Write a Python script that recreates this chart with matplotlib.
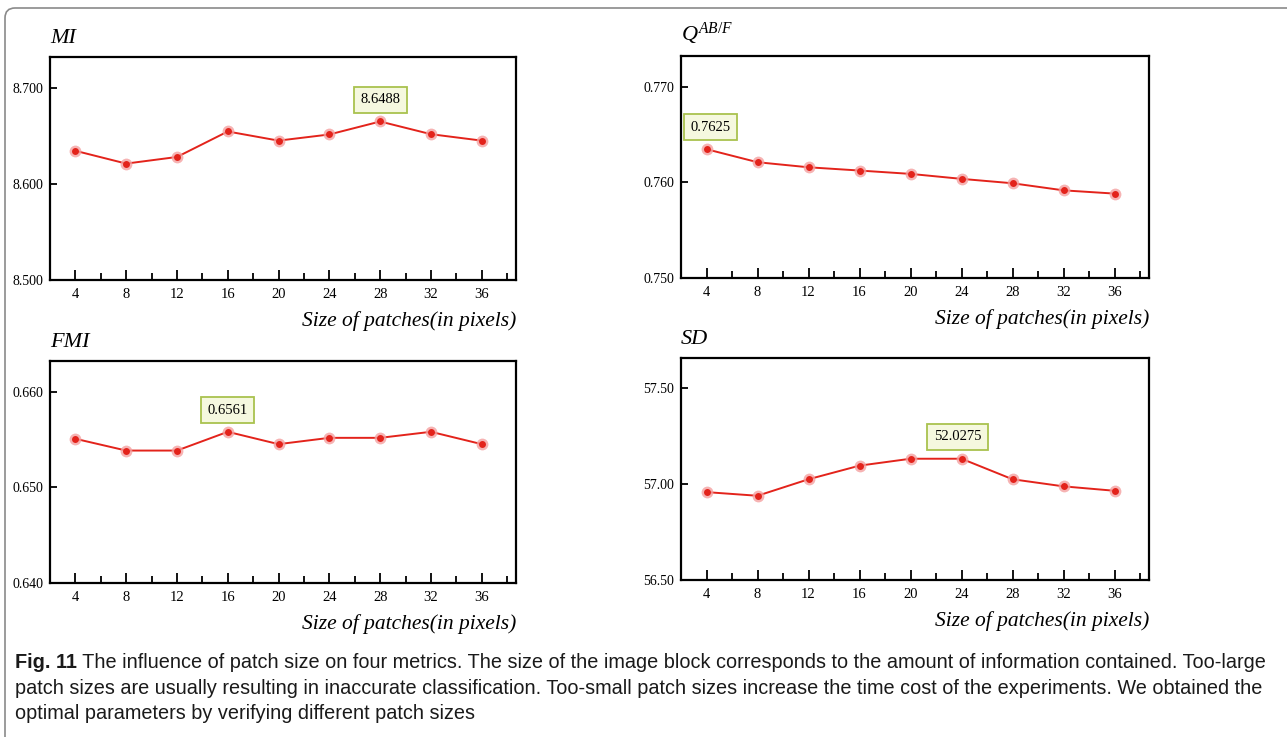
import matplotlib
matplotlib.use("Agg")
import matplotlib.pyplot as plt
from matplotlib.patches import FancyBboxPatch
from matplotlib.transforms import IdentityTransform

plt.rcParams['font.family'] = ['Liberation Serif', 'DejaVu Serif']
plt.rcParams['mathtext.fontset'] = 'custom'
plt.rcParams['mathtext.it'] = 'Liberation Serif:italic'
plt.rcParams['mathtext.rm'] = 'Liberation Serif'

# -------------------------------
# Dane
# -------------------------------
patch_sizes = [4, 8, 12, 16, 20, 24, 28, 32, 36]

mi_values = [8.6344, 8.6211, 8.6280, 8.6545, 8.6450, 8.6514, 8.6649, 8.6517, 8.6450]
q_values = [0.76346, 0.76210, 0.76157, 0.76123, 0.76088, 0.76036, 0.75990, 0.75916, 0.75882]
fmi_values = [0.65507, 0.65384, 0.65384, 0.65580, 0.65451, 0.65517, 0.65517, 0.65580, 0.65451]
sd_values = [56.958, 56.939, 57.025, 57.096, 57.132, 57.132, 57.025, 56.988, 56.965]

titles = ["MI", r"$Q^{AB/F}$", "FMI", "SD"]
y_ticks = [
    [8.500, 8.600, 8.700],
    [0.750, 0.760, 0.770],
    [0.640, 0.650, 0.660],
    [56.50, 57.00, 57.50],
]
y_tick_labels = [
    ["8.500", "8.600", "8.700"],
    ["0.750", "0.760", "0.770"],
    ["0.640", "0.650", "0.660"],
    ["56.50", "57.00", "57.50"],
]
y_limits = [(8.500, 8.732), (0.750, 0.7732), (0.640, 0.6632), (56.50, 57.657)]

# etykieta "najlepszej" wartosci: (indeks punktu, tekst)
best_labels = [(6, "8.6488"), (0, "0.7625"), (3, "0.6561"), (5, "52.0275")]
label_dx = [0, 3, 0, -3]

x_label = "Size of patches(in pixels)"
caption_bold = "Fig. 11"
caption_lines = [
    " The influence of patch size on four metrics. The size of the image block corresponds to the amount of information contained. Too-large",
    "patch sizes are usually resulting in inaccurate classification. Too-small patch sizes increase the time cost of the experiments. We obtained the",
    "optimal parameters by verifying different patch sizes",
]

series = [mi_values, q_values, fmi_values, sd_values]

# pozycje osi w pikselach: (lewo, gora, prawo, dol)
W, H = 1287, 737
boxes = [(50, 57, 516, 280), (681, 56, 1149, 278), (50, 361, 516, 583), (681, 358, 1149, 580)]

fig = plt.figure(figsize=(W / 100, H / 100), dpi=100)

# ramka wokol calej ryciny
frame = FancyBboxPatch((5, -60), 1400, H - 8 + 60,
                       boxstyle="round,pad=0,rounding_size=10",
                       transform=IdentityTransform(), fc="none", ec="#8a8a8a", lw=1.2)
fig.patches.append(frame)

for i, (l, t, r, b) in enumerate(boxes):
    ax = fig.add_axes([l / W, 1 - b / H, (r - l) / W, (b - t) / H])
    vals = series[i]
    ax.plot(patch_sizes, vals, color="#e3231b", lw=1.4, zorder=3)
    ax.plot(patch_sizes, vals, ls="none", marker="o", ms=8.5, mfc="#f4a0a0",
            mec="none", alpha=0.8, zorder=4)
    ax.plot(patch_sizes, vals, ls="none", marker="o", ms=5, mfc="#e3231b",
            mec="none", zorder=5)

    ax.set_xlim(2, 38.7)
    ax.set_ylim(*y_limits[i])
    ax.set_xticks(patch_sizes)
    ax.set_xticks(range(6, 39, 4), minor=True)
    ax.set_yticks(y_ticks[i])
    ax.set_yticklabels(y_tick_labels[i])
    ax.tick_params(axis="x", which="major", direction="in", length=7, width=1.3,
                   labelsize=10.5, pad=6, top=False)
    ax.tick_params(axis="x", which="minor", direction="in", length=5, width=1.3, top=False)
    ax.tick_params(axis="y", direction="in", length=5, width=1.3, labelsize=10,
                   pad=5, right=False)
    for sp in ax.spines.values():
        sp.set_linewidth(1.6)

    ax.text(0.0, 1.04, titles[i], transform=ax.transAxes, fontsize=16,
            fontstyle="italic", ha="left", va="bottom")
    ax.text(1.0, -0.14, x_label, transform=ax.transAxes, fontsize=15.5,
            fontstyle="italic", ha="right", va="top")

    idx, txt = best_labels[i]
    ax.annotate(txt, xy=(patch_sizes[idx], vals[idx]), xytext=(label_dx[i], 11),
                textcoords="offset points", ha="center", va="bottom", fontsize=10.5,
                bbox=dict(boxstyle="square,pad=0.45", fc="#f5f8df", ec="#a9c24e", lw=1.3),
                zorder=6)

# podpis ryciny
cap_font = ["Liberation Sans", "DejaVu Sans"]
y0 = 1 - 668 / H
dy = 25.5 / H
bold = fig.text(15 / W, y0, caption_bold, fontsize=14.3, fontweight="bold",
                family=cap_font, color="#1a1a1a")
fig.canvas.draw()
bb = bold.get_window_extent()
fig.text(bb.x1 / W, y0, caption_lines[0], fontsize=14.3, family=cap_font, color="#1a1a1a")
for k, line in enumerate(caption_lines[1:], start=1):
    fig.text(15 / W, y0 - k * dy, line, fontsize=14.3, family=cap_font, color="#1a1a1a")

fig.savefig("out.png", dpi=100)
